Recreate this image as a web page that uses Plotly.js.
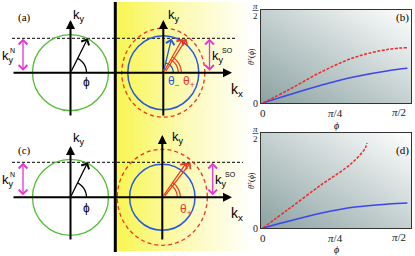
<!DOCTYPE html>
<html><head><meta charset="utf-8">
<script src="https://cdn.plot.ly/plotly-3.0.1.min.js"></script>
<style>html,body{margin:0;padding:0;background:#fff}#chart{width:415px;height:256px}</style>
</head><body><div id="chart"></div>
<script>
const PI = Math.PI;
// ---- panel (b) data ----
const phiB = [0, 0.277, 0.64, 1.0, 1.363, 1.571];
const thetaMinusB = [0, 0.135, 0.304, 0.444, 0.546, 0.586];
const thetaPlusB = [0, 0.22, 0.529, 0.772, 0.907, 0.934];
// ---- panel (d) data ----
const phiMinusD = [0, 0.277, 0.64, 1.0, 1.363, 1.571];
const thetaMinusD = [0, 0.111, 0.248, 0.347, 0.397, 0.413];
const phiPlusD = [0, 0.277, 0.64, 0.9, 1.0, 1.08, 1.115, 1.132];
const thetaPlusD = [0, 0.31, 0.72, 0.99, 1.12, 1.25, 1.33, 1.405];
// ---- tick labels ----
const xTickVals = [0, PI/4, PI/2];
const xTickText = ['0', '<i>π</i>/4', ''];
const xEndLabel = '<i>π</i>/2';
const yTickVals = [0, PI/2];
const yTickText = ['0', ''];
const yTopNum = 'π', yTopDen = '2';

// ---- schematic geometry (pixel frame of the figure) ----
const rows = [
  {lab:'(a)', oxL:70.5, oxR:163.3, oy:72.7, dashY:38.3, dashEnd:236, kyTopL:20, kyTopR:20, kyBot:117,
   rG:38, blue:[35.5,37], red:[41.5,44.5], tipN:[87.7,38.3], tipB:[171.5,38.6],
   tipR:[[182.5,38.8],[186.5,38.8]], magL:23, magR:209.5, labY:17.5, kyLabL:[79,15], kyLabR:[174,15],
   kN:[8,56], kSO:[218,56], phiLab:[86,82], thM:[174,82], thP:[189,82], kx:[237,90]},
  {lab:'(c)', oxL:70.5, oxR:162.3, oy:197.3, dashY:162.3, dashEnd:243, kyTopL:146, kyTopR:135, kyBot:241,
   rG:38, blue:[32.7,33], red:[45,48], tipN:[87.7,162.3], tipB:null,
   tipR:[[186.5,162.6],[190.5,162.6]], magL:23, magR:212.7, labY:150.5, kyLabL:[79,138.5], kyLabR:[178,137],
   kN:[8,180], kSO:[221,180], phiLab:[86,208], thM:null, thP:[186,210], kx:[237,214]}
];
const green = 'rgb(80,190,50)', blueC = 'rgb(40,90,220)', redC = 'rgb(235,55,35)', mag = 'rgb(230,50,215)';

function arcPath(cx, cy, r, a0, a1) {
  let d = '';
  for (let i = 0; i <= 24; i++) {
    const a = a0 + (a1 - a0) * i / 24;
    d += (i ? 'L' : 'M') + (cx + r*Math.cos(a)).toFixed(2) + ',' + (cy - r*Math.sin(a)).toFixed(2);
  }
  return d;
}
const shapes = [], ann = [];
const X = 'x3', Y = 'y3';
function line(x0,y0,x1,y1,color,width,dash){shapes.push({type:'line',xref:X,yref:Y,x0,y0,x1,y1,line:{color,width,dash:dash||'solid'},layer:'above'});}
function arrow(tx,ty,sx,sy,color,width,head,size,both){
  const a={x:tx,y:ty,ax:sx,ay:sy,xref:X,yref:Y,axref:X,ayref:Y,text:'',showarrow:true,arrowhead:head,arrowsize:size,arrowwidth:width,arrowcolor:color,standoff:0,startstandoff:0};
  if(both){a.arrowside='end+start';a.startarrowhead=head;a.startarrowsize=size;}
  ann.push(a);
}
function txt(x,y,t,size,color,family,extra){ann.push(Object.assign({x,y,xref:X,yref:Y,text:t,showarrow:false,font:{size,color:color||'#000',family:family||'Liberation Sans, Arial, sans-serif'},xanchor:'center',yanchor:'middle'},extra||{}));}

// thick separator bar
line(115.3,2,115.3,252,'#000',3);

rows.forEach(r => {
  line(12, r.dashY, r.dashEnd, r.dashY, '#000', 1, '3px,2px');
  shapes.push({type:'circle',xref:X,yref:Y,x0:r.oxL-r.rG,x1:r.oxL+r.rG,y0:r.oy-r.rG,y1:r.oy+r.rG,line:{color:green,width:1.3},layer:'above'});
  shapes.push({type:'circle',xref:X,yref:Y,x0:r.oxR-r.blue[0],x1:r.oxR+r.blue[0],y0:r.oy-r.blue[1],y1:r.oy+r.blue[1],line:{color:blueC,width:1.5},layer:'above'});
  shapes.push({type:'circle',xref:X,yref:Y,x0:r.oxR-r.red[0],x1:r.oxR+r.red[0],y0:r.oy-r.red[1],y1:r.oy+r.red[1],line:{color:redC,width:1.3,dash:'4px,3px'},layer:'above'});
  arrow(232, r.oy, 12, r.oy, '#000', 2, 2, 0.9);
  arrow(r.oxL, r.kyTopL, r.oxL, r.kyBot, '#000', 2, 2, 0.9);
  arrow(r.oxR, r.kyTopR, r.oxR, r.kyBot, '#000', 2, 2, 0.9);
  arrow(r.magL, r.dashY+0.5, r.magL, r.oy-0.5, mag, 1.3, 4, 1.3, true);
  arrow(r.magR, r.dashY+0.5, r.magR, r.oy-0.5, mag, 1.3, 4, 1.3, true);
  arrow(r.tipN[0], r.tipN[1], r.oxL, r.oy, '#000', 1.3, 4, 1.3);
  const aN = Math.atan2(r.oy - r.tipN[1], r.tipN[0] - r.oxL);
  shapes.push({type:'path',xref:X,yref:Y,path:arcPath(r.oxL,r.oy,16,0,aN),line:{color:'#000',width:1.3},layer:'above'});
  if (r.tipB) {
    arrow(r.tipB[0], r.tipB[1], r.oxR, r.oy, blueC, 1.3, 4, 1.3);
    const aB = Math.atan2(r.oy - r.tipB[1], r.tipB[0] - r.oxR);
    shapes.push({type:'path',xref:X,yref:Y,path:arcPath(r.oxR,r.oy,10,0,aB),line:{color:blueC,width:1.3},layer:'above'});
  }
  r.tipR.forEach((t,i) => arrow(t[0], t[1], r.oxR + (i?1.5:0), r.oy, redC, 1.2, 4, 1.3));
  const aR = Math.atan2(r.oy - r.tipR[0][1], r.tipR[0][0] - r.oxR);
  shapes.push({type:'path',xref:X,yref:Y,path:arcPath(r.oxR,r.oy,15,0,aR),line:{color:redC,width:1.2},layer:'above'});
  shapes.push({type:'path',xref:X,yref:Y,path:arcPath(r.oxR,r.oy,18,0,aR),line:{color:redC,width:1.2},layer:'above'});
  txt(24, r.labY, r.lab, 11, '#000', 'Liberation Serif, serif');
  txt(r.kyLabL[0], r.kyLabL[1], 'k<sub>y</sub>', 13);
  txt(r.kyLabR[0], r.kyLabR[1], 'k<sub>y</sub>', 13);
  txt(r.kx[0], r.kx[1], 'k<sub>x</sub>', 14);
  txt(r.kN[0], r.kN[1], 'k<sub>y</sub>', 13);
  txt(r.kN[0]+4, r.kN[1]-6, 'N', 7);
  txt(r.kSO[0], r.kSO[1], 'k<sub>y</sub>', 13);
  txt(r.kSO[0]+9, r.kSO[1]-6, 'SO', 7);
  txt(r.phiLab[0], r.phiLab[1], 'ϕ', 12);
  if (r.thM) txt(r.thM[0], r.thM[1], 'θ<sub>−</sub>', 12, blueC);
  txt(r.thP[0], r.thP[1], 'θ<sub>+</sub>', 12, redC);
});

// panel decorations
const serif = 'Liberation Serif, DejaVu Serif, serif';
txt(402, 17, '(b)', 11, '#000', serif);
txt(402, 150, '(d)', 11, '#000', serif);
txt(336, 125, '<i>ϕ</i>', 10, '#000', serif);
txt(336, 249, '<i>ϕ</i>', 10, '#000', serif);
txt(251, 57, '<i>θ</i><sup>±</sup>(<i>ϕ</i>)', 8, '#000', serif, {textangle:-90});
txt(251, 181, '<i>θ</i><sup>±</sup>(<i>ϕ</i>)', 8, '#000', serif, {textangle:-90});
// π/2 labels at the axis ends
[111.5, 236.5].forEach(yl => txt(399, yl, xEndLabel, 11, '#222', serif));
[10, 133].forEach(yt => {
  txt(255.5, yt-4.5, '<i>'+yTopNum+'</i>', 9, '#222', serif);
  line(252.5, yt+0.5, 258.5, yt+0.5, '#222', 0.7);
  txt(255.5, yt+6, yTopDen, 9, '#222', serif);
});

function svgURI(s){return 'data:image/svg+xml;charset=utf-8,' + encodeURIComponent(s);}
const panelGrad = svgURI("<svg xmlns='http://www.w3.org/2000/svg' width='150' height='94' viewBox='0 0 150 94' preserveAspectRatio='none'><defs><linearGradient id='g' x1='0' y1='1' x2='1' y2='0'><stop offset='0' stop-color='rgb(140,162,162)'/><stop offset='1' stop-color='#ffffff'/></linearGradient></defs><rect width='150' height='94' fill='url(#g)'/></svg>");
const yellowGrad = svgURI("<svg xmlns='http://www.w3.org/2000/svg' width='140' height='250' viewBox='0 0 140 250' preserveAspectRatio='none'><defs><linearGradient id='y' x1='0' y1='0' x2='1' y2='0'><stop offset='0' stop-color='rgb(248,246,80)'/><stop offset='0.5' stop-color='rgb(252,250,180)'/><stop offset='1' stop-color='#ffffff'/></linearGradient></defs><rect width='140' height='250' fill='url(#y)'/></svg>");

const W = 415, H = 256;
const images = [
  {source:panelGrad, xref:'paper', yref:'paper', x:261/W, y:1-10/H, sizex:150/W, sizey:93/H, xanchor:'left', yanchor:'top', sizing:'stretch', layer:'below'},
  {source:panelGrad, xref:'paper', yref:'paper', x:261/W, y:1-133/H, sizex:150/W, sizey:95/H, xanchor:'left', yanchor:'top', sizing:'stretch', layer:'below'},
  {source:yellowGrad, xref:'paper', yref:'paper', x:116.5/W, y:1-2/H, sizex:136/W, sizey:249/H, xanchor:'left', yanchor:'top', sizing:'stretch', layer:'below'}
];

const tickFont = {family: serif, size: 11, color: '#222'};
const xAx = (anchor) => ({domain:[261/W, 411/W], range:[-0.02, 1.61], anchor, tickmode:'array', tickvals:xTickVals, ticktext:xTickText,
  tickfont:tickFont, showgrid:false, zeroline:false, showline:true, mirror:true, linecolor:'#333', linewidth:1, ticks:'', fixedrange:true});
const yAx = (anchor, dom) => ({domain:dom, range:[0, PI/2], anchor, tickmode:'array', tickvals:yTickVals, ticktext:yTickText,
  tickfont:{family: serif, size: 10, color:'#222'}, showgrid:false, zeroline:false, showline:true, mirror:true, linecolor:'#333', linewidth:1, ticks:'', fixedrange:true});

const traces = [
  {x:phiB, y:thetaMinusB, xaxis:'x', yaxis:'y', mode:'lines', line:{color:'rgb(60,70,235)', width:1.5, shape:'spline'}},
  {x:phiB, y:thetaPlusB, xaxis:'x', yaxis:'y', mode:'lines', line:{color:'rgb(240,40,40)', width:1.5, dash:'3px,1.5px', shape:'spline'}},
  {x:phiMinusD, y:thetaMinusD, xaxis:'x2', yaxis:'y2', mode:'lines', line:{color:'rgb(60,70,235)', width:1.5, shape:'spline'}},
  {x:phiPlusD, y:thetaPlusD, xaxis:'x2', yaxis:'y2', mode:'lines', line:{color:'rgb(240,40,40)', width:1.5, dash:'3px,1.5px', shape:'spline'}},
  {x:[0], y:[0], xaxis:'x3', yaxis:'y3', mode:'markers', marker:{opacity:0}, hoverinfo:'skip'}
];

const layout = {
  width:W, height:H, margin:{l:0,r:0,t:0,b:0}, showlegend:false,
  paper_bgcolor:'#fff', plot_bgcolor:'rgba(0,0,0,0)',
  xaxis: xAx('y'), yaxis: yAx('x', [1-103/H, 1-10/H]),
  xaxis2: xAx('y2'), yaxis2: yAx('x2', [1-228/H, 1-133/H]),
  xaxis3: {domain:[0,1], range:[0,W], visible:false, anchor:'y3', fixedrange:true},
  yaxis3: {domain:[0,1], range:[H,0], visible:false, anchor:'x3', fixedrange:true},
  shapes, annotations: ann, images
};
Plotly.newPlot('chart', traces, layout, {staticPlot:true, displayModeBar:false});
</script></body></html>
